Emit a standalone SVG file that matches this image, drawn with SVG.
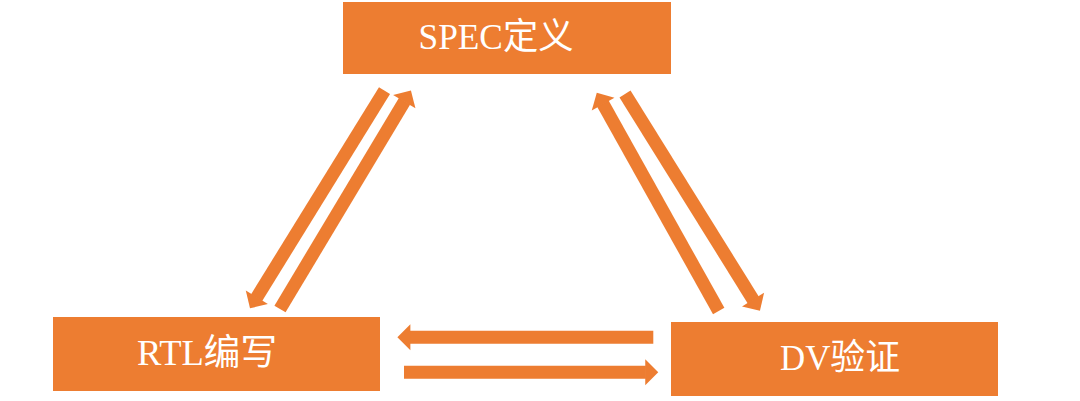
<svg xmlns="http://www.w3.org/2000/svg" width="1080" height="401" viewBox="0 0 1080 401">
  <defs>
    <style>
      .box { fill: #ED7D31; }
      .label { fill: #FFFFFF; font-family: "Liberation Serif", "Noto Sans CJK SC", serif; font-size: 36px; text-anchor: middle; }
      .arrow { stroke: #ED7D31; stroke-width: 13; fill: none; stroke-linecap: butt; marker-end: url(#head); }
    </style>
    <marker id="head" viewBox="0 0 10 20" markerUnits="strokeWidth" markerWidth="1" markerHeight="2" refX="0.5" refY="10" orient="auto" overflow="visible">
      <path d="M0,0 L10,10 L0,20 Z" fill="#ED7D31"/>
    </marker>
  </defs>
  <rect width="1080" height="401" fill="#FFFFFF"/>

  <g id="connectors">
    <line class="arrow" x1="384.5" y1="90.7" x2="256.5" y2="297.8"/>
    <line class="arrow" x1="280" y1="309" x2="404.6" y2="101.1"/>
    <line class="arrow" x1="718.7" y1="311" x2="602.8" y2="103.5"/>
    <line class="arrow" x1="625" y1="94" x2="753.4" y2="300.2"/>
    <line class="arrow" x1="653.3" y1="337.3" x2="409.7" y2="337.3"/>
    <line class="arrow" x1="404" y1="372.3" x2="645.9" y2="372.3"/>
  </g>

  <g id="spec">
    <rect class="box" x="343" y="2" width="328" height="72"/>
    <text class="label" x="496" y="49" textLength="155" lengthAdjust="spacingAndGlyphs">SPEC定义</text>
  </g>
  <g id="rtl">
    <rect class="box" x="53" y="317" width="327" height="74"/>
    <text class="label" x="207" y="365" textLength="140" lengthAdjust="spacingAndGlyphs">RTL编写</text>
  </g>
  <g id="dv">
    <rect class="box" x="671" y="322" width="327" height="74"/>
    <text class="label" x="840" y="370" textLength="120" lengthAdjust="spacingAndGlyphs">DV验证</text>
  </g>
</svg>
